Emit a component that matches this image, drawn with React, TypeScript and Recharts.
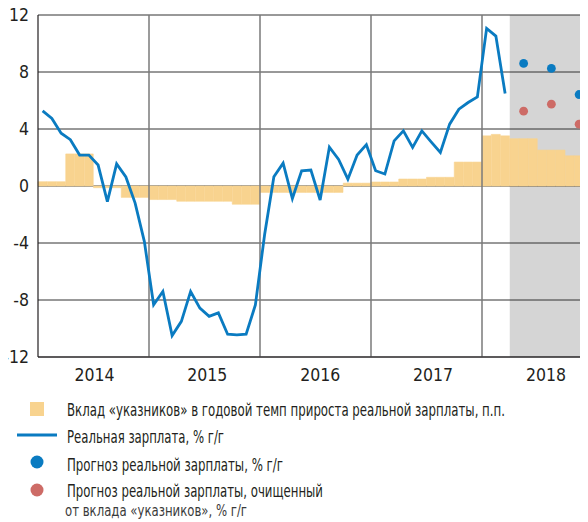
import React from "react";
import {
  ComposedChart,
  Bar,
  Line,
  XAxis,
  YAxis,
  ReferenceArea,
  ReferenceLine,
} from "recharts";

const YEARS = [2014, 2015, 2016, 2017, 2018];

// real wage, % y/y, Jan 2014 .. Mar 2018
const REAL_WAGE = [
  5.27, 4.74, 3.7, 3.25, 2.17, 2.17, 1.47, -1.1, 1.55, 0.63, -1.2, -3.9,
  -8.33, -7.4, -10.5, -9.5, -7.4, -8.57, -9.15, -8.9, -10.4, -10.45, -10.4, -8.35,
  -3.4, 0.65, 1.6, -0.88, 1.06, 1.12, -0.98, 2.73, 1.87, 0.48, 2.17, 2.9,
  1.07, 0.84, 3.17, 3.87, 2.71, 3.87, 3.1, 2.36, 4.34, 5.39, 5.86, 6.25,
  11.06, 10.52, 6.49,
];

// contribution of "decree" workers, p.p., Jan 2014 .. Dec 2018
const DECREE_CONTRIB = [
  0.3, 0.3, 0.3, 2.25, 2.25, 2.25, -0.12, -0.12, -0.12, -0.8, -0.8, -0.8,
  -0.95, -0.95, -0.95, -1.07, -1.07, -1.07, -1.07, -1.07, -1.07, -1.28, -1.28, -1.28,
  -0.45, -0.45, -0.45, -0.45, -0.45, -0.45, -0.45, -0.45, -0.45, 0.2, 0.2, 0.2,
  0.28, 0.28, 0.28, 0.49, 0.49, 0.49, 0.61, 0.61, 0.61, 1.68, 1.68, 1.68,
  3.52, 3.62, 3.52, 3.32, 3.32, 3.32, 2.52, 2.52, 2.52, 2.12, 2.12, 2.12,
];

const FORECAST_START = "2018-04";
const FORECAST_MONTHS = ["2018-05", "2018-08", "2018-11"];
const FORECAST_WAGE = [8.6, 8.25, 6.42];
const FORECAST_WAGE_CLEAN = [5.25, 5.74, 4.34];

const Y_DOMAIN = [-12, 12];
const Y_TICKS = [-12, -8, -4, 0, 4, 8, 12];

const LEGEND_CONTRIB = "Вклад «указников» в годовой темп прироста реальной зарплаты, п.п.";
const LEGEND_WAGE = "Реальная зарплата, % г/г";
const LEGEND_FORECAST = "Прогноз реальной зарплаты, % г/г";
const LEGEND_CLEAN_1 = "Прогноз реальной зарплаты, очищенный";
const LEGEND_CLEAN_2 = "от вклада «указников», % г/г";

const BLUE = "#0a7bc1";
const RED = "#cd6b66";
const SAND = "#f8d38f";
const SHADE = "#d5d5d5";
const INK = "#231f20";
const FONT = "'DejaVu Sans Condensed', 'Liberation Sans', sans-serif";

const MONTHS = YEARS.flatMap((y) =>
  Array.from({ length: 12 }, (_, m) => `${y}-${String(m + 1).padStart(2, "0")}`),
);

const data = MONTHS.map((month, i) => {
  const f = FORECAST_MONTHS.indexOf(month);
  return {
    month,
    wage: i < REAL_WAGE.length ? REAL_WAGE[i] : null,
    contrib: DECREE_CONTRIB[i],
    fc: f >= 0 ? FORECAST_WAGE[f] : null,
    fcClean: f >= 0 ? FORECAST_WAGE_CLEAN[f] : null,
  };
});

const yearTicks = YEARS.map((_, i) => i * 12 + 6);
const yearStarts = YEARS.slice(1).map((y) => `${y}-01`);

function YTick({ x, y, payload }: any) {
  return (
    <text x={x} y={y} dy="0.36em" textAnchor="end" fontSize={17.5} fill={INK}>
      {String(payload.value)}
    </text>
  );
}

// horizontal grid, drawn inside the plot rectangle handed over by ReferenceArea
function HorizontalGrid({ x, y, width, height }: any) {
  const [lo, hi] = Y_DOMAIN;
  return (
    <g>
      {Y_TICKS.map((t) => {
        const ty = y + ((hi - t) / (hi - lo)) * height;
        return <line key={t} x1={x} x2={x + width} y1={ty} y2={ty} stroke="#333" strokeWidth={1} />;
      })}
    </g>
  );
}

export default function App() {
  return (
    <div style={{ margin: "-8px 0 0 -8px", width: 588, height: 522, overflow: "hidden", fontFamily: FONT }}>
      <ComposedChart
        width={593}
        height={390}
        data={data}
        margin={{ top: 15, right: 0, bottom: 3, left: 8 }}
        barCategoryGap={0}
        barGap={0}
      >
        <XAxis
          xAxisId="yr"
          type="number"
          domain={[0, MONTHS.length]}
          allowDataOverflow
          ticks={yearTicks}
          tickFormatter={(v) => String(YEARS[Math.floor(v / 12)])}
          tickLine={false}
          axisLine={{ stroke: INK, strokeWidth: 1.2 }}
          tick={{ fontSize: 17.5, fill: INK }}
          tickMargin={6}
          height={30}
        />
        <XAxis dataKey="month" hide height={0} />
        <YAxis
          type="number"
          domain={Y_DOMAIN}
          ticks={Y_TICKS}
          tickLine={false}
          axisLine={{ stroke: INK, strokeWidth: 1.2 }}
          tick={<YTick />}
          tickMargin={3}
          width={30}
        />
        <ReferenceArea
          x1={FORECAST_START}
          x2={MONTHS[MONTHS.length - 1]}
          fill={SHADE}
          fillOpacity={1}
          stroke="none"
        />
        <ReferenceArea
          x1={MONTHS[0]}
          x2={MONTHS[MONTHS.length - 1]}
          fill="none"
          stroke="none"
          shape={(p: any) => <HorizontalGrid {...p} />}
        />
        {yearStarts.map((m) => (
          <ReferenceLine
            key={`v${m}`}
            x={m}
            position="start"
            stroke="#7a7a7a"
            strokeWidth={1.5}
          />
        ))}
        <Bar
          dataKey="contrib"
          fill={SAND}
          stroke={SAND}
          strokeWidth={0.6}
          isAnimationActive={false}
        />
        <Line
          dataKey="wage"
          type="linear"
          stroke={BLUE}
          strokeWidth={2.8}
          dot={false}
          activeDot={false}
          isAnimationActive={false}
        />
        <Line
          dataKey="fc"
          stroke="none"
          dot={{ r: 4.4, fill: BLUE, stroke: "none" }}
          activeDot={false}
          isAnimationActive={false}
        />
        <Line
          dataKey="fcClean"
          stroke="none"
          dot={{ r: 4.4, fill: RED, stroke: "none" }}
          activeDot={false}
          isAnimationActive={false}
        />
      </ComposedChart>
      <svg width={588} height={132} fontFamily={FONT} fill={INK} style={{ display: "block" }}>
        <rect x={30} y={12} width={14} height={14} fill={SAND} />
        <text x={67} y={26} fontSize={18} textLength={438} lengthAdjust="spacingAndGlyphs">
          {LEGEND_CONTRIB}
        </text>
        <line x1={17} x2={57} y1={45} y2={45} stroke={BLUE} strokeWidth={3} />
        <text x={67} y={53} fontSize={18} textLength={157} lengthAdjust="spacingAndGlyphs">
          {LEGEND_WAGE}
        </text>
        <circle cx={37} cy={72} r={6.5} fill={BLUE} />
        <text x={67} y={80.5} fontSize={18} textLength={216} lengthAdjust="spacingAndGlyphs">
          {LEGEND_FORECAST}
        </text>
        <circle cx={37} cy={100} r={6.5} fill={RED} />
        <text x={67} y={107} fontSize={18} textLength={256} lengthAdjust="spacingAndGlyphs">
          {LEGEND_CLEAN_1}
        </text>
        <text x={65} y={126} fontSize={15.5} fill="#3a3a3a" textLength={182} lengthAdjust="spacingAndGlyphs">
          {LEGEND_CLEAN_2}
        </text>
      </svg>
    </div>
  );
}
